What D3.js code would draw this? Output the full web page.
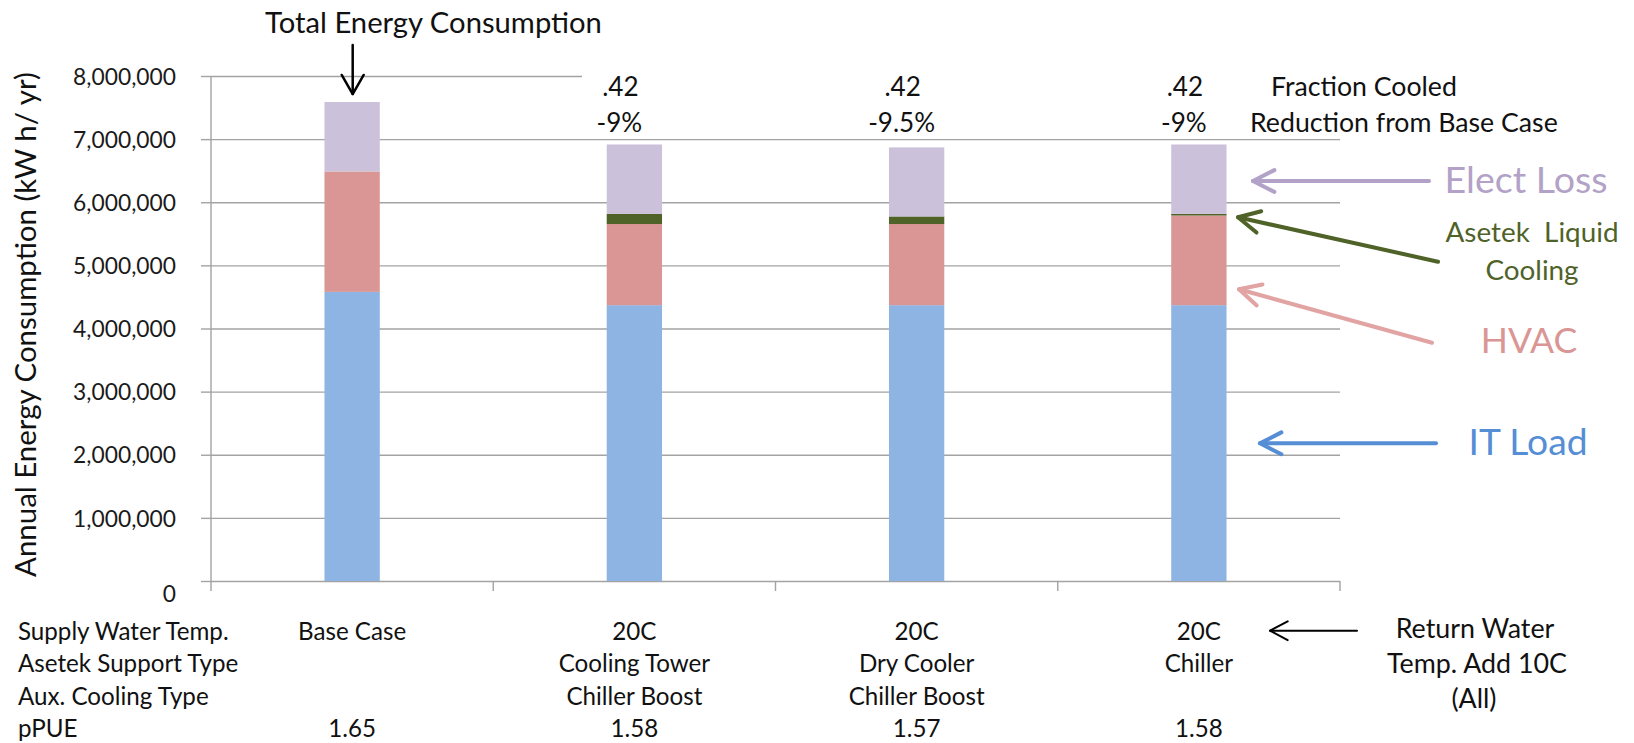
<!DOCTYPE html>
<html><head><meta charset="utf-8">
<script src="https://cdn.jsdelivr.net/npm/d3@7"></script>
<style>body{margin:0;background:#fff;} text{font-family:Lato,'Open Sans',sans-serif;}</style>
</head><body><svg id="c" width="1634" height="743"></svg>
<script>
// ---- data ----
const categories = ["Base Case", "Cooling Tower", "Dry Cooler", "Chiller"];
const itLoad    = [4580000, 4370000, 4370000, 4370000];
const hvac      = [1908000, 1285000, 1285000, 1420000];
const asetek    = [0, 160000, 120000, 25000];
const electLoss = [1100000, 1100000, 1094000, 1100000];
const seriesKeys = ["IT Load", "HVAC", "Asetek Liquid Cooling", "Elect Loss"];
const yTicks = [0, 1000000, 2000000, 3000000, 4000000, 5000000, 6000000, 7000000, 8000000];
const rowLabels = ["Supply Water Temp.", "Asetek Support Type", "Aux. Cooling Type", "pPUE"];
const supplyTemp = ["Base Case", "20C", "20C", "20C"];
const supportType = ["", "Cooling Tower", "Dry Cooler", "Chiller"];
const auxCooling = ["", "Chiller Boost", "Chiller Boost", ""];
const pPUE = ["1.65", "1.58", "1.57", "1.58"];
const fractionCooled = ["", ".42", ".42", ".42"];
const reduction = ["", "-9%", "-9.5%", "-9%"];

const colors = {"IT Load":"#8EB4E3","HVAC":"#D99694","Asetek Liquid Cooling":"#4F6228","Elect Loss":"#CCC1DA"};

// ---- layout ----
const svg = d3.select("#c");
const pL = 211, pR = 1340, pT = 76, pB = 581;
const x = d3.scaleBand().domain(categories).range([pL, pR]).padding(0);
const y = d3.scaleLinear().domain([0, 8000000]).range([pB, pT]);
const barW = x.bandwidth() * 0.196;
const grid = "#A3A3A3";

// font-size fitting so Lato text spans the same width as the original text
function fit(s, target) {
  const t = svg.append("text").attr("font-size", 100).style("white-space", "pre").text(s);
  const w = t.node().getComputedTextLength();
  t.remove();
  return 100 * target / w;
}
const fsTick = fit("8,000,000", 103);
const fsTitle = fit("Total Energy Consumption", 337);
const fsYTitle = fit("Annual Energy Consumption (kW h/ yr)", 505);
const fsRow = (fit("Supply Water Temp.", 219) + fit("Base Case", 104)) / 2;
const fsTop = fit("Reduction from Base Case", 308);
const fsNum = fit("-9.5%", 67);
const fsRet = fit("Temp. Add 10C", 180);
const fsElect = fit("Elect Loss", 163);
const fsAsetek = fit("Asetek  Liquid", 173);
const fsHvac = fit("HVAC", 96.6);
const fsIt = fit("IT Load", 119);

// gridlines
const gAx = svg.append("g").attr("transform", `translate(${pL},0)`);
gAx.call(d3.axisLeft(y).tickValues(yTicks).tickSize(-(pR - pL)).tickFormat(""))
  .call(g => g.select(".domain").remove())
  .call(g => g.selectAll(".tick line").attr("stroke", grid).attr("stroke-width", 1.4))
  .call(g => g.selectAll(".tick").filter(d => d === 8000000).select("line").attr("x2", 371));
// ticks + labels
const gLab = svg.append("g").attr("transform", `translate(${pL},0)`);
gLab.call(d3.axisLeft(y).tickValues(yTicks).tickSize(10).tickPadding(25).tickFormat(d3.format(",")))
  .call(g => g.select(".domain").remove())
  .call(g => g.selectAll(".tick line").attr("stroke", grid).attr("stroke-width", 1.4))
  .call(g => g.selectAll(".tick text").attr("font-size", fsTick).attr("fill", "#1a1a1a")
      .attr("font-family", "Lato").attr("dy", d => d === 0 ? "0.9em" : "0.36em"));
// vertical axis line
svg.append("line").attr("x1", pL).attr("x2", pL).attr("y1", pT).attr("y2", pB + 10)
  .attr("stroke", grid).attr("stroke-width", 1.4);
// category ticks
svg.append("g").selectAll("line").data(categories.map(c => x(c) + x.bandwidth()))
  .join("line").attr("x1", d => d).attr("x2", d => d).attr("y1", pB).attr("y2", pB + 10)
  .attr("stroke", grid).attr("stroke-width", 1.4);

// bars
const table = categories.map((c, i) => ({cat: c, "IT Load": itLoad[i], "HVAC": hvac[i],
  "Asetek Liquid Cooling": asetek[i], "Elect Loss": electLoss[i]}));
const stacked = d3.stack().keys(seriesKeys)(table);
svg.append("g").selectAll("g").data(stacked).join("g").attr("fill", s => colors[s.key])
  .selectAll("rect").data(s => s).join("rect")
  .attr("x", d => x(d.data.cat) + x.bandwidth() / 2 - barW / 2)
  .attr("width", barW)
  .attr("y", d => y(d[1]))
  .attr("height", d => Math.max(0, y(d[0]) - y(d[1])));

// helpers
function arrow(x1, y1, x2, y2, color, w, arm, ang) {
  const a = Math.atan2(y1 - y2, x1 - x2);
  const g = svg.append("g").attr("stroke", color).attr("stroke-width", w).attr("fill", "none")
    .attr("stroke-linecap", "round").attr("stroke-linejoin", "round");
  g.append("line").attr("x1", x1).attr("y1", y1).attr("x2", x2).attr("y2", y2);
  const r = ang * Math.PI / 180;
  g.append("polyline").attr("points", [
    [x2 + arm * Math.cos(a + r), y2 + arm * Math.sin(a + r)], [x2, y2],
    [x2 + arm * Math.cos(a - r), y2 + arm * Math.sin(a - r)]].map(p => p.join(",")).join(" "));
}
function txt(s, xx, yy, size, anchor, color) {
  return svg.append("text").attr("x", xx).attr("y", yy).attr("font-size", size)
    .attr("text-anchor", anchor || "middle").attr("fill", color || "#111")
    .style("white-space", "pre").text(s);
}

// y axis title
svg.append("text").attr("transform", "translate(36,324.5) rotate(-90)").attr("text-anchor", "middle")
  .attr("font-size", fsYTitle).attr("fill", "#111").text("Annual Energy Consumption (kW h/ yr)");

// total energy title + arrow
txt("Total Energy Consumption", 433.5, 32.5, fsTitle);
arrow(352.7, 45, 352.7, 94, "#000", 2.5, 22, 30);

// top annotations
const cx = c => x(c) + x.bandwidth() / 2;
svg.append("g").selectAll("text").data(categories).join("text")
  .attr("x", d => cx(d) - 14).attr("y", 96).attr("font-size", fsNum).attr("text-anchor", "middle")
  .attr("fill", "#111").text((d, i) => fractionCooled[i]);
svg.append("g").selectAll("text").data(categories).join("text")
  .attr("x", d => cx(d) - 15).attr("y", 131.5).attr("font-size", fsNum).attr("text-anchor", "middle")
  .attr("fill", "#111").text((d, i) => reduction[i]);
txt("Fraction Cooled", 1271, 96, fsTop, "start");
txt("Reduction from Base Case", 1250, 131.5, fsTop, "start");

// bottom table
const rowY = [640, 672, 705, 737];
rowLabels.forEach((r, k) => txt(r, 18, rowY[k], fsRow, "start"));
[supplyTemp, supportType, auxCooling, pPUE].forEach((row, k) => {
  svg.append("g").selectAll("text").data(categories).join("text")
    .attr("x", d => cx(d)).attr("y", rowY[k]).attr("font-size", fsRow).attr("text-anchor", "middle")
    .attr("fill", "#111").text((d, i) => row[i]);
});
arrow(1357, 630.7, 1270, 630.7, "#000", 2, 20, 28);
txt("Return Water", 1475, 638, fsRet);
txt("Temp. Add 10C", 1477, 673, fsRet);
txt("(All)", 1474, 708, fsRet);

// series annotations
txt("Elect Loss", 1526, 193, fsElect, "middle", "#B3A2C7");
arrow(1429, 181, 1253, 181, "#B3A2C7", 4, 24, 27);
txt("Asetek  Liquid", 1532, 241.5, fsAsetek, "middle", "#4F6228");
txt("Cooling", 1532, 280, fsAsetek, "middle", "#4F6228");
arrow(1438, 261.7, 1238, 217.3, "#4F6228", 4, 24, 27);
txt("HVAC", 1529, 353, fsHvac, "middle", "#DA9694");
arrow(1432, 342.7, 1239, 289.3, "#E2A3A3", 4, 24, 27);
txt("IT Load", 1528, 455, fsIt, "middle", "#558ED5");
arrow(1436, 443.3, 1260, 443.3, "#558ED5", 4, 24, 27);
</script></body></html>
